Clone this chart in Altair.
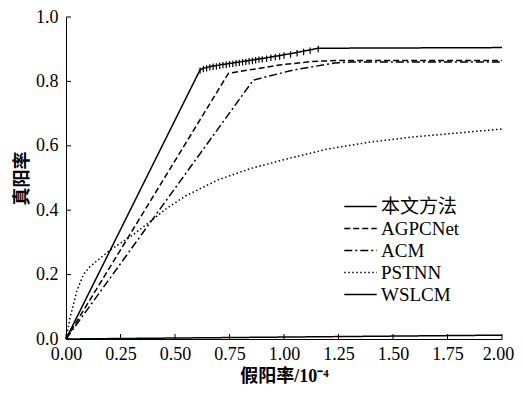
import altair as alt
import pandas as pd

methods = ["本文方法", "AGPCNet", "ACM", "PSTNN", "WSLCM"]

ours_x = [0.0, 0.615, 0.63, 0.645, 0.66, 0.675, 0.69, 0.705, 0.72, 0.735, 0.75,
          0.765, 0.78, 0.795, 0.81, 0.825, 0.84, 0.855, 0.87, 0.885, 0.90, 0.92,
          0.94, 0.96, 0.98, 1.00, 1.03, 1.06, 1.09, 1.12, 1.157, 2.0]
ours_y = [0.0, 0.836, 0.841, 0.843, 0.846, 0.848, 0.849, 0.851, 0.853, 0.854, 0.856,
          0.857, 0.859, 0.860, 0.862, 0.863, 0.865, 0.866, 0.868, 0.870, 0.871, 0.873,
          0.876, 0.878, 0.880, 0.883, 0.886, 0.890, 0.894, 0.898, 0.903, 0.905]

agpc_x = [0.0, 0.745, 0.98, 1.13, 1.25, 2.0]
agpc_y = [0.0, 0.825, 0.851, 0.862, 0.865, 0.865]

acm_x = [0.0, 0.859, 1.04, 1.23, 1.30, 2.0]
acm_y = [0.0, 0.804, 0.835, 0.857, 0.860, 0.860]

pstnn_x = [0.0, 0.02, 0.05, 0.08, 0.11, 0.2, 0.3, 0.4, 0.45, 0.55, 0.7, 0.85,
           1.0, 1.2, 1.4, 1.6, 1.8, 2.0]
pstnn_y = [0.0, 0.07, 0.15, 0.20, 0.225, 0.275, 0.32, 0.372, 0.40, 0.445, 0.495,
           0.53, 0.557, 0.59, 0.612, 0.628, 0.640, 0.652]

wslcm_x = [0.0, 2.0]
wslcm_y = [0.0, 0.012]

x_ticks = [0.0, 0.25, 0.5, 0.75, 1.0, 1.25, 1.5, 1.75, 2.0]
y_ticks = [0.0, 0.2, 0.4, 0.6, 0.8, 1.0]

rows = []
for name, xs, ys in [
    ("本文方法", ours_x, ours_y),
    ("AGPCNet", agpc_x, agpc_y),
    ("ACM", acm_x, acm_y),
    ("PSTNN", pstnn_x, pstnn_y),
    ("WSLCM", wslcm_x, wslcm_y),
]:
    for i, (a, b) in enumerate(zip(xs, ys)):
        rows.append({"method": name, "x": a, "y": b, "i": i})
df = pd.DataFrame(rows)
marker_df = df[(df["method"] == "本文方法") & (df["x"] > 0.6) & (df["x"] < 1.2)]

FONT = "'Liberation Serif', 'Noto Sans CJK SC', serif"
W, H = 436, 322

xs = alt.Scale(domain=[0, 2], nice=False, zero=True)
ys = alt.Scale(domain=[0, 1], nice=False, zero=True)

lines = alt.Chart(df).mark_line(color="black", strokeWidth=1.5).encode(
    x=alt.X("x:Q", scale=xs,
            axis=alt.Axis(values=x_ticks, format=".2f", title="假阳率/10⁻⁴",
                          tickSize=0, labelPadding=6, titlePadding=4,
                          labelFlush=False, labelOverlap=False,
                          labelOffset={"condition": {"test": "datum.value == 2", "value": -4},
                                       "value": 0})),
    y=alt.Y("y:Q", scale=ys,
            axis=alt.Axis(values=y_ticks, format=".1f", title="真阳率",
                          tickSize=0, labelPadding=8, titlePadding=4,
                          labelFlush=False, labelOverlap=False)),
    strokeDash=alt.StrokeDash(
        "method:N",
        scale=alt.Scale(domain=methods,
                        range=[[1, 0], [6, 3], [8, 3, 2, 3], [1.5, 2.5], [1, 0]]),
        sort=methods,
        legend=alt.Legend(title=None, orient="none", legendX=285, legendY=180,
                          symbolType="M-2.5,0H2.5", symbolSize=169,
                          symbolStrokeColor="black", symbolStrokeWidth=1.5,
                          labelFont=FONT, labelFontSize=19, labelOffset=11,
                          rowPadding=2, labelColor="black"),
    ),
    order="i:Q",
)

markers = alt.Chart(marker_df).mark_point(
    shape="M0,-0.6L0,1", size=64, color="black", strokeWidth=1.2, filled=False,
    opacity=1
).encode(x=alt.X("x:Q", scale=xs), y=alt.Y("y:Q", scale=ys))

xt = alt.Chart(pd.DataFrame({"v": x_ticks})).mark_rule(color="black", strokeWidth=1).encode(
    x=alt.X("v:Q", scale=xs), y=alt.value(H), y2=alt.value(H - 5))
yt = alt.Chart(pd.DataFrame({"v": y_ticks})).mark_rule(color="black", strokeWidth=1).encode(
    y=alt.Y("v:Q", scale=ys), x=alt.value(0), x2=alt.value(5))

chart = alt.layer(lines, markers, xt, yt).properties(
    width=W, height=H,
    autosize=alt.AutoSizeParams(type="none"),
    padding={"left": 58, "top": 9, "right": 12, "bottom": 49},
).configure_view(stroke=None).configure_axis(
    domainColor="black", domainWidth=1, grid=False,
    labelFont=FONT, labelFontSize=18, labelColor="black",
    titleFont=FONT, titleFontSize=18, titleFontWeight="bold", titleColor="black",
)

chart.save("out.html", embed_options={"renderer": "svg", "actions": False})
